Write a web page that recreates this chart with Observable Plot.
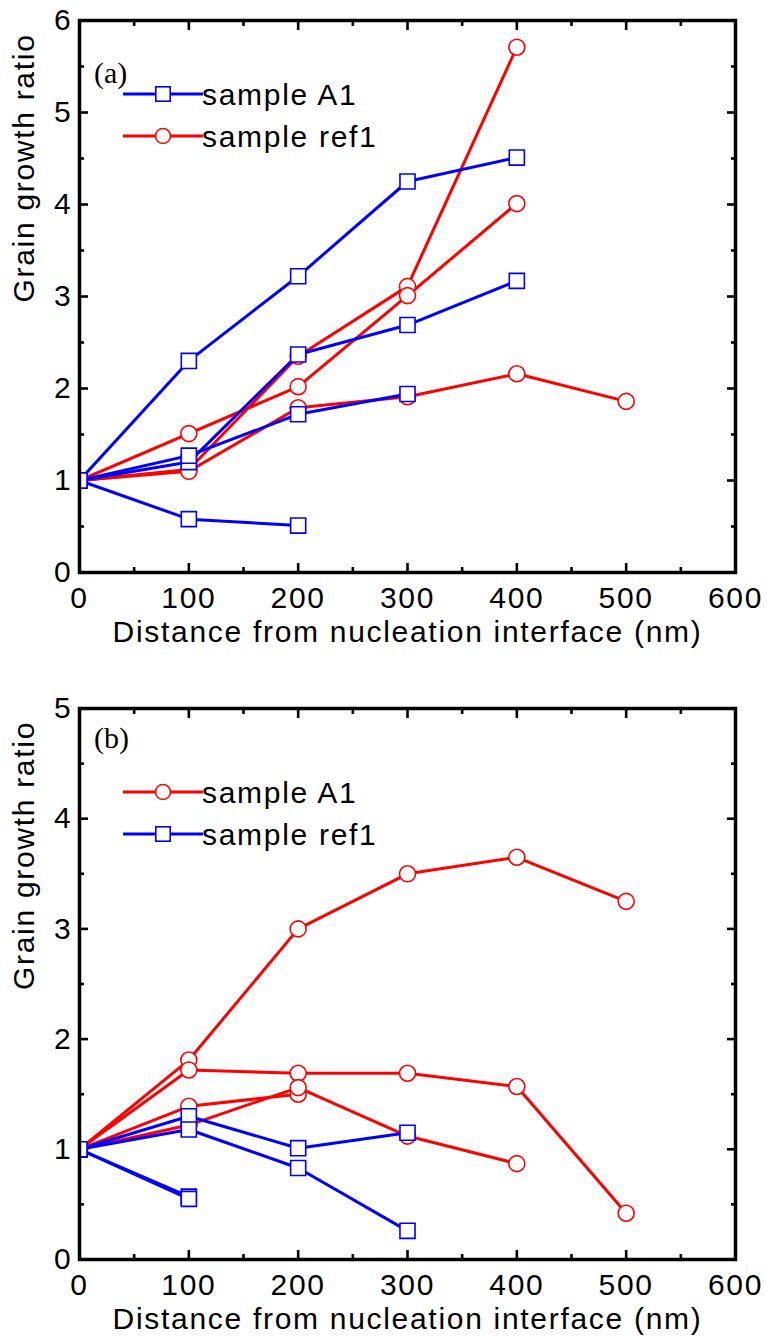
<!DOCTYPE html>
<html><head><meta charset="utf-8">
<script src="https://cdn.jsdelivr.net/npm/d3@7"></script>
<script src="https://cdn.jsdelivr.net/npm/@observablehq/plot@0.6"></script>
<style>
body{margin:0;background:#fff;}
#chart svg{display:block;}
#chart svg text{letter-spacing:1.7px;}
#chart svg text.tag{letter-spacing:0;}
</style></head><body><div id="chart"></div>
<script>
// Shared x positions (nm)
const distance = [0, 100, 200, 300, 400, 500];
const xTicks = [0, 100, 200, 300, 400, 500, 600];
const xTitle = "Distance from nucleation interface (nm)";
const yTitle = "Grain growth ratio";

// Panel (a)
const aTag = "(a)";
const aLegend = ["sample A1", "sample ref1"];
const aYTicks = [0, 1, 2, 3, 4, 5, 6];
const a_A1_1 = [1.00, 2.30, 3.22, 4.25, 4.51];
const a_A1_2 = [1.00, 1.20, 2.37, 2.69, 3.17];
const a_A1_3 = [1.00, 1.27, 1.72, 1.94];
const a_A1_4 = [1.00, 0.58, 0.51];
const a_ref1_1 = [1.00, 1.12, 2.35, 3.11, 5.71];
const a_ref1_2 = [1.00, 1.51, 2.02, 3.01, 4.01];
const a_ref1_3 = [1.00, 1.10, 1.79, 1.91, 2.16, 1.86];

// Panel (b)
const bTag = "(b)";
const bLegend = ["sample A1", "sample ref1"];
const bYTicks = [0, 1, 2, 3, 4, 5];
const b_A1_1 = [1.00, 1.81, 3.00, 3.50, 3.65, 3.25];
const b_A1_2 = [1.00, 1.72, 1.69, 1.69, 1.57, 0.42];
const b_A1_3 = [1.00, 1.39, 1.50];
const b_A1_4 = [1.00, 1.22, 1.56, 1.12, 0.87];
const b_ref1_1 = [1.00, 1.30, 1.01, 1.15];
const b_ref1_2 = [1.00, 1.18, 0.83, 0.26];
const b_ref1_3 = [1.00, 0.57];
const b_ref1_4 = [1.00, 0.55];

const RED = "#ff0000", BLUE = "#0000ff";
const SANS = "'Liberation Sans', Arial, sans-serif";
const SERIF = "'Liberation Serif', 'Times New Roman', serif";

function toRows(list) {
  const rows = [];
  list.forEach((vals, k) => vals.forEach((v, i) => rows.push({x: distance[i], y: v, id: k})));
  return rows;
}

function panel({red, blue, redSymbol, blueSymbol, yTicks, height, marginTop, marginBottom, tag, tagY, legendY, legendOrder}) {
  const yMax = yTicks[yTicks.length - 1];
  const xMinor = d3.range(50, 600, 100);
  const yMinor = d3.range(0.5, yMax, 1);
  const redRows = toRows(red), blueRows = toRows(blue);
  const tk = {tickFormat: () => "", label: null, strokeWidth: 2.6};
  const fmt = d3.format("d");
  const svg = Plot.plot({
    width: 767, height, marginTop, marginBottom, marginLeft: 79, marginRight: 32,
    x: {domain: [0, 600]},
    y: {domain: [0, yMax]},
    style: {fontFamily: SANS, fontSize: "30px", background: "white", color: "black"},
    marks: [
      Plot.axisX(xTicks, {anchor: "bottom", tickSize: 0, tickPadding: 14, label: null, fontSize: 30, tickFormat: fmt}),
      Plot.axisX(xTicks, {anchor: "bottom", tickSize: -9, ...tk}),
      Plot.axisX(xMinor, {anchor: "bottom", tickSize: -5, ...tk}),
      Plot.axisX(xTicks, {anchor: "top", tickSize: -9, ...tk}),
      Plot.axisX(xMinor, {anchor: "top", tickSize: -5, ...tk}),
      Plot.axisY(yTicks, {anchor: "left", tickSize: 0, tickPadding: 7, label: null, fontSize: 30, tickFormat: fmt}),
      Plot.axisY(yTicks, {anchor: "left", tickSize: -9, ...tk}),
      Plot.axisY(yMinor, {anchor: "left", tickSize: -5, ...tk}),
      Plot.axisY(yTicks, {anchor: "right", tickSize: -9, ...tk}),
      Plot.axisY(yMinor, {anchor: "right", tickSize: -5, ...tk}),
      Plot.text([xTitle], {frameAnchor: "bottom", dy: 48, lineAnchor: "top", fontSize: 30, text: d => d}),
      Plot.text([yTitle], {frameAnchor: "left", rotate: -90, dx: -67, dy: 6, lineAnchor: "top", fontSize: 30, text: d => d}),
      Plot.line(redRows, {x: "x", y: "y", z: "id", stroke: RED, strokeWidth: 3, clip: true}),
      Plot.dot(redRows, {x: "x", y: "y", symbol: redSymbol, r: redSymbol === "circle" ? 8 : 8.5, stroke: RED, fill: "white", strokeWidth: 1.6, clip: true}),
      Plot.line(blueRows, {x: "x", y: "y", z: "id", stroke: BLUE, strokeWidth: 3, clip: true}),
      Plot.dot(blueRows, {x: "x", y: "y", symbol: blueSymbol, r: blueSymbol === "circle" ? 8 : 8.5, stroke: BLUE, fill: "white", strokeWidth: 1.6, clip: true}),
      Plot.frame({strokeWidth: 3.5})
    ]
  });
  const s = d3.select(svg);
  s.append("text").attr("class", "tag").attr("x", 94).attr("y", tagY).attr("text-anchor", "start")
    .attr("font-family", SERIF).attr("font-size", 30).attr("fill", "black").text(tag);
  legendOrder.forEach((item, i) => {
    const y = legendY[i];
    const g = s.append("g");
    g.append("line").attr("x1", 123).attr("x2", 203).attr("y1", y).attr("y2", y)
      .attr("stroke", item.color).attr("stroke-width", 3);
    if (item.symbol === "circle") {
      g.append("circle").attr("cx", 163).attr("cy", y).attr("r", 7.5)
        .attr("fill", "white").attr("stroke", item.color).attr("stroke-width", 1.6);
    } else {
      g.append("rect").attr("x", 163 - 7.2).attr("y", y - 7.2).attr("width", 14.4).attr("height", 14.4)
        .attr("fill", "white").attr("stroke", item.color).attr("stroke-width", 1.6);
    }
    g.append("text").attr("x", 202).attr("y", y + 11).attr("text-anchor", "start").attr("font-family", SANS)
      .attr("font-size", 30).attr("fill", "black").text(item.label);
  });
  return svg;
}

const chart = document.getElementById("chart");
chart.append(panel({
  red: [a_ref1_1, a_ref1_2, a_ref1_3], blue: [a_A1_1, a_A1_2, a_A1_3, a_A1_4],
  redSymbol: "circle", blueSymbol: "square",
  yTicks: aYTicks, height: 660, marginTop: 20, marginBottom: 88,
  tag: aTag, tagY: 83, legendY: [94, 136],
  legendOrder: [{label: aLegend[0], color: BLUE, symbol: "square"}, {label: aLegend[1], color: RED, symbol: "circle"}]
}));
chart.append(panel({
  red: [b_A1_1, b_A1_2, b_A1_3, b_A1_4], blue: [b_ref1_1, b_ref1_2, b_ref1_3, b_ref1_4],
  redSymbol: "circle", blueSymbol: "square",
  yTicks: bYTicks, height: 679, marginTop: 48, marginBottom: 80,
  tag: bTag, tagY: 88, legendY: [132, 174],
  legendOrder: [{label: bLegend[0], color: RED, symbol: "circle"}, {label: bLegend[1], color: BLUE, symbol: "square"}]
}));
</script></body></html>
